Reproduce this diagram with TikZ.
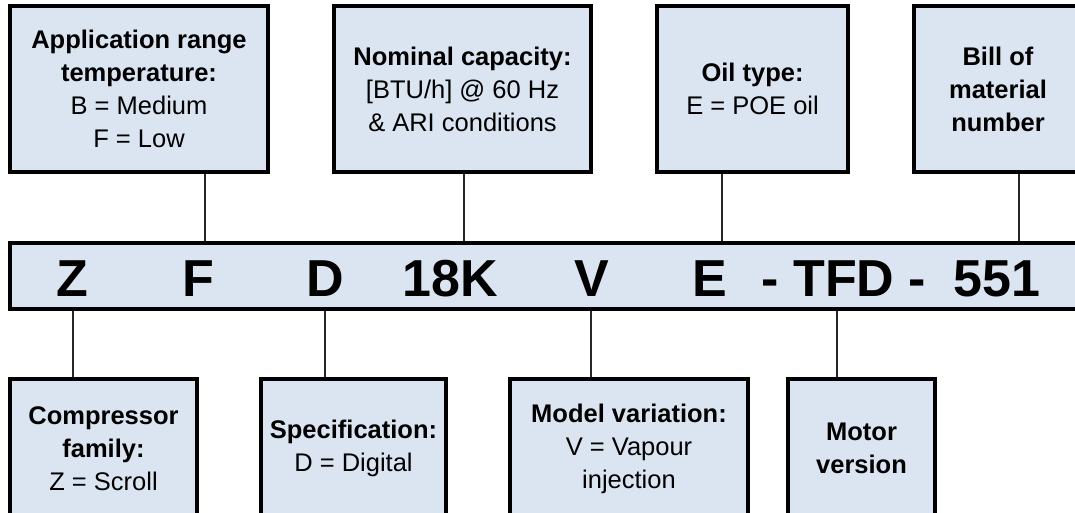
\documentclass[tikz,border=0pt]{standalone}
\usepackage{fontspec}
\setmainfont{Liberation Sans}
\definecolor{boxfill}{RGB}{219,229,241}
\begin{document}
\begin{tikzpicture}[x=1pt,y=-1pt,
 box/.style={draw=black, line width=3.5pt, fill=boxfill, align=center, inner sep=0pt, font=\fontsize{25.5}{33}\selectfont},
 code/.style={anchor=base, font=\fontsize{52}{60}\selectfont\bfseries, inner sep=0pt},
 link/.style={draw=black!85, line width=1.6pt}]
\useasboundingbox (0,0) rectangle (1075,513);
\clip (0,0) rectangle (1075,513);
% top boxes
\node[box, minimum width=258pt, minimum height=166pt] (t1) at (139,89)
  {\textbf{Application range}\\\textbf{temperature:}\\B = Medium\\F = Low};
\node[box, minimum width=257pt, minimum height=166pt] (t2) at (462.5,89)
  {\textbf{Nominal capacity:}\\{[BTU/h]} @ 60 Hz\\\& ARI conditions};
\node[box, minimum width=191pt, minimum height=166pt] (t3) at (752.5,89)
  {\textbf{Oil type:}\\E = POE oil};
\node[box, minimum width=168pt, minimum height=166pt] (t4) at (998,89)
  {\textbf{Bill of}\\\textbf{material}\\\textbf{number}};
% code bar
\node[box, minimum width=1078pt, minimum height=66pt] (bar) at (549,276) {};
\node[code] (lZ) at (72,296) {Z};
\node[code] (lF) at (198,296) {F};
\node[code] (lD) at (325,296) {D};
\node[code] (lK) at (450,296) {18K};
\node[code] (lV) at (592,296) {V};
\node[code] (lE) at (710,296) {E};
\node[code] (lT) at (844,296) {- TFD -};
\node[code] (lN) at (997,296) {551};
% bottom boxes
\node[box, minimum width=187pt, minimum height=139pt] (b1) at (103.5,448.5)
  {\textbf{Compressor}\\\textbf{family:}\\Z = Scroll};
\node[box, minimum width=185pt, minimum height=139pt] (b2) at (353.5,448.5)
  {\textbf{Specification:}\\D = Digital};
\node[box, minimum width=238pt, minimum height=139pt] (b3) at (629,448.5)
  {\textbf{Model variation:}\\V = Vapour\\injection};
\node[box, minimum width=147pt, minimum height=139pt] (b4) at (861.5,448.5)
  {\textbf{Motor}\\\textbf{version}};
% connector positions
\coordinate (cF) at (205,0);
\coordinate (cK) at (464,0);
\coordinate (cE) at (722,0);
\coordinate (cN) at (1019,0);
\coordinate (cZ) at (73,0);
\coordinate (cD) at (325,0);
\coordinate (cV) at (591,0);
\coordinate (cT) at (837,0);
\draw[link] (t1.south -| cF) -- (bar.north -| cF);
\draw[link] (t2.south -| cK) -- (bar.north -| cK);
\draw[link] (t3.south -| cE) -- (bar.north -| cE);
\draw[link] (t4.south -| cN) -- (bar.north -| cN);
\draw[link] (bar.south -| cZ) -- (b1.north -| cZ);
\draw[link] (bar.south -| cD) -- (b2.north -| cD);
\draw[link] (bar.south -| cV) -- (b3.north -| cV);
\draw[link] (bar.south -| cT) -- (b4.north -| cT);
\end{tikzpicture}
\end{document}
